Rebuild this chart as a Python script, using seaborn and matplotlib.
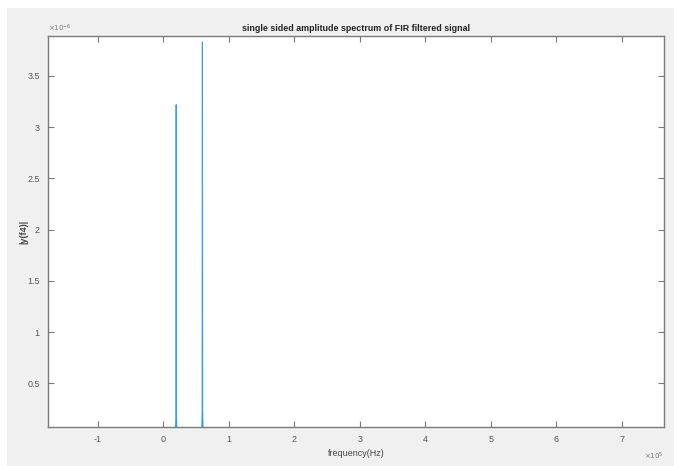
import matplotlib
matplotlib.use("Agg")
import matplotlib.pyplot as plt
from matplotlib.patches import Rectangle
from matplotlib.ticker import FuncFormatter, FixedLocator
import seaborn as sns
import numpy as np

# Single-sided amplitude spectrum samples (Hz, amplitude)
freq_hz = [0, 17500, 19000, 19600, 20000, 20400, 21000, 22500,
           57500, 59000, 59600, 60000, 60400, 61000, 62500, 700000]
amplitude = [0.0, 0.0, 0.05e-6, 0.2e-6, 3.22e-6, 0.2e-6, 0.05e-6, 0.0,
             0.0, 0.05e-6, 0.22e-6, 3.83e-6, 0.22e-6, 0.05e-6, 0.0, 0.0]

x_ticks = [-1, 0, 1, 2, 3, 4, 5, 6, 7]          # in units of 1e5 Hz
y_ticks = [0.5, 1, 1.5, 2, 2.5, 3, 3.5]          # in units of 1e-6
x_limits = (-1.755e5, 7.64e5)
y_limits = (0.075e-6, 3.89e-6)

title_text = "single sided amplitude spectrum of FIR filtered signal"
x_label = "frequency(Hz)"
y_label = "|y(f4)|"

sns.set_theme(style="white")
plt.rcParams["font.family"] = ["Liberation Sans", "DejaVu Sans"]

W, H = 674, 466
fig = plt.figure(figsize=(W / 100, H / 100), dpi=100, facecolor="white")
fig.patches.append(Rectangle((7 / W, 0), 1 - 7 / W, 1 - 8 / H,
                             transform=fig.transFigure, facecolor="#f0f0f0",
                             edgecolor="none", zorder=-10))

left, right, top, bottom = 48, 664, 36, 427
ax = fig.add_axes([left / W, 1 - bottom / H, (right - left) / W, (bottom - top) / H])
ax.set_facecolor("white")

sns.lineplot(x=freq_hz, y=amplitude, ax=ax, color="#3d9be0", linewidth=0.8,
             sort=False, estimator=None)

ax.set_xlim(*x_limits)
ax.set_ylim(*y_limits)
ax.xaxis.set_major_locator(FixedLocator([v * 1e5 for v in x_ticks]))
ax.yaxis.set_major_locator(FixedLocator([v * 1e-6 for v in y_ticks]))
ax.xaxis.set_major_formatter(FuncFormatter(lambda v, p: f"{v / 1e5:g}"))
ax.yaxis.set_major_formatter(FuncFormatter(lambda v, p: f"{v / 1e-6:g}"))

edge = "#7a7a7a"
for s in ax.spines.values():
    s.set_visible(True)
    s.set_color(edge)
    s.set_linewidth(1.0)
ax.tick_params(axis="both", which="major", direction="in", length=4,
               width=0.8, color=edge, labelsize=6.5, labelcolor="#555555",
               top=True, right=True, bottom=True, left=True, pad=6)
ax.grid(False)

ax.set_title(title_text, fontsize=6.4, fontweight="bold", color="#222222", pad=3.5)
ax.set_xlabel(x_label, fontsize=6.5, color="#444444", labelpad=3.5)
ax.set_ylabel(y_label, fontsize=6.5, fontweight="bold", color="#444444", labelpad=-1)

ax.text(0.0, 1.004, r"$\times10^{-6}$", transform=ax.transAxes, fontsize=5,
        color="#777777", ha="left", va="bottom")
ax.text(1.0, -0.06, r"$\times10^{5}$", transform=ax.transAxes, fontsize=5,
        color="#777777", ha="right", va="top")

fig.savefig("out.png", dpi=100, facecolor=fig.get_facecolor())
